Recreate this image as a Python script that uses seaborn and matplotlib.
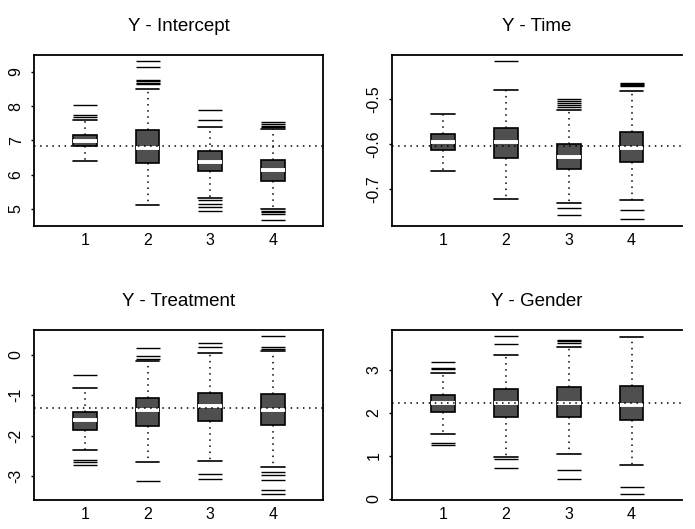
import pandas as pd
import seaborn as sns
import matplotlib.pyplot as plt

sns.set_theme(style="white")
plt.rcParams['font.family'] = ['Liberation Sans', 'DejaVu Sans']
plt.rcParams['text.color'] = 'black'
plt.rcParams['xtick.color'] = 'black'
plt.rcParams['ytick.color'] = 'black'

groups = ['1', '2', '3', '4']

# Y - Intercept
int_lo = [6.39, 5.10, 5.32, 4.98]
int_q1 = [6.83, 6.34, 6.11, 5.81]
int_med = [6.99, 6.76, 6.38, 6.12]
int_q3 = [7.15, 7.30, 6.68, 6.42]
int_hi = [7.59, 8.51, 7.38, 7.32]
int_out = [[8.02, 7.74, 7.69],
           [9.31, 9.15, 8.76, 8.72, 8.68, 8.65],
           [7.87, 7.60, 5.25, 5.14, 5.06, 4.94],
           [7.53, 7.48, 7.43, 7.38, 4.94, 4.90, 4.86, 4.67]]
int_ref = 6.82

# Y - Time
time_lo = [-0.660, -0.722, -0.731, -0.726]
time_q1 = [-0.613, -0.632, -0.655, -0.640]
time_med = [-0.595, -0.596, -0.630, -0.608]
time_q3 = [-0.5785, -0.564, -0.601, -0.573]
time_hi = [-0.533, -0.479, -0.525, -0.481]
time_out = [[],
            [-0.415],
            [-0.500, -0.505, -0.509, -0.514, -0.518, -0.744, -0.758],
            [-0.463, -0.466, -0.469, -0.471, -0.747, -0.768]]
time_ref = -0.605

# Y - Treatment
trt_lo = [-2.36, -2.65, -2.64, -2.77]
trt_q1 = [-1.86, -1.76, -1.64, -1.75]
trt_med = [-1.61, -1.38, -1.26, -1.36]
trt_q3 = [-1.41, -1.06, -0.94, -0.97]
trt_hi = [-0.82, -0.15, 0.05, 0.10]
trt_out = [[-0.51, -2.61, -2.66, -2.72],
           [0.16, -0.04, -0.10, -3.12],
           [0.28, 0.20, -2.95, -3.08],
           [0.45, 0.19, 0.14, -2.91, -2.98, -3.10, -3.34, -3.45]]
trt_ref = -1.31

# Y - Gender
gen_lo = [1.51, 0.98, 1.04, 0.79]
gen_q1 = [2.01, 1.91, 1.91, 1.83]
gen_med = [2.22, 2.22, 2.24, 2.19]
gen_q3 = [2.42, 2.56, 2.59, 2.63]
gen_hi = [2.93, 3.35, 3.53, 3.77]
gen_out = [[3.18, 3.05, 3.01, 1.29, 1.26],
           [3.79, 3.60, 0.93, 0.71],
           [3.70, 3.66, 3.61, 0.67, 0.46],
           [0.27, 0.12]]
gen_ref = 2.22

panels = [
    ("Y - Intercept", [int_lo, int_q1, int_med, int_q3, int_hi], int_out, int_ref,
     (4.50, 9.49), [5, 6, 7, 8, 9], [0.049, 0.573, 0.416, 0.323], False),
    ("Y - Time", [time_lo, time_q1, time_med, time_q3, time_hi], time_out, time_ref,
     (-0.783, -0.4015), [-0.7, -0.6, -0.5], [0.564, 0.573, 0.417, 0.323], True),
    ("Y - Treatment", [trt_lo, trt_q1, trt_med, trt_q3, trt_hi], trt_out, trt_ref,
     (-3.59, 0.607), [-3, -2, -1, 0], [0.049, 0.055, 0.416, 0.321], False),
    ("Y - Gender", [gen_lo, gen_q1, gen_med, gen_q3, gen_hi], gen_out, gen_ref,
     (-0.02, 3.92), [0, 1, 2, 3], [0.564, 0.055, 0.417, 0.321], True),
]

fig = plt.figure(figsize=(6.95, 5.29), dpi=100)

for title, five, outs, ref, ylim, yticks, pos, cut_right in panels:
    ax = fig.add_axes(pos)
    # five-number summary per group -> box spans q1..q3, whiskers lo..hi
    box_df = pd.DataFrame({
        'group': [g for g in groups for _ in range(5)],
        'value': [five[k][i] for i in range(4) for k in range(5)],
    })
    out_df = pd.DataFrame({
        'group': [g for g, o in zip(groups, outs) for _ in o],
        'value': [v for o in outs for v in o],
    })
    sns.boxplot(data=box_df, x='group', y='value', order=groups, ax=ax,
                whis=(0, 100), width=0.38, color='#4f4f4f', saturation=1,
                linecolor='black', linewidth=1.2,
                medianprops={'color': 'white', 'linewidth': 2.8},
                whiskerprops={'linestyle': (0, (1, 3)), 'linewidth': 1.1},
                capprops={'linewidth': 1.2}, showfliers=False,
                capwidths=0.38)
    sns.stripplot(data=out_df, x='group', y='value', order=groups, ax=ax,
                  jitter=False, marker='_', size=17, linewidth=1.0,
                  color='black', zorder=4)
    ax.axhline(ref, color='black', linestyle=(0, (1, 3)), linewidth=1.1, zorder=6)

    ax.set_xlim(-0.81, 3.8)
    ax.set_ylim(*ylim)
    ax.set_yticks(yticks)
    ax.set_yticklabels([f"{t:g}" for t in yticks], rotation=90, va='center')
    ax.set_xlabel('')
    ax.set_ylabel('')
    ax.set_title(title, fontsize=13.5, pad=17, color='black')
    ax.tick_params(axis='y', length=2.5, width=1, pad=5, labelsize=11.5, left=True,
                   color='black', labelcolor='black')
    ax.tick_params(axis='x', length=0, pad=5, labelsize=11.5, labelcolor='black')
    for side, sp in ax.spines.items():
        sp.set_color('black')
        sp.set_linewidth(1.3)
    if cut_right:
        ax.spines['right'].set_visible(False)

fig.savefig('out.png', dpi=100)
